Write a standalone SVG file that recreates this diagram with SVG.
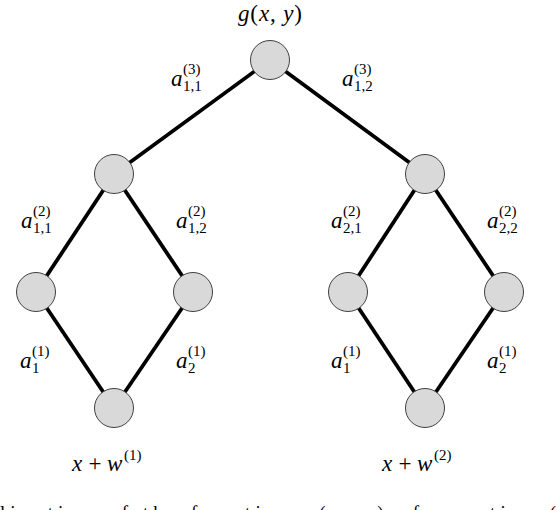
<svg xmlns="http://www.w3.org/2000/svg" width="556" height="510" viewBox="0 0 556 510">
<style>
.e{stroke:#000;stroke-width:3.8;fill:none}
.n{fill:#d9d9d9;stroke:#404040;stroke-width:1}
.m{font-family:"Liberation Serif",serif;font-style:italic;font-size:23px;fill:#000}
.r{font-family:"Liberation Serif",serif;font-style:normal;font-size:23px;fill:#000}
.s{font-family:"Liberation Serif",serif;font-size:15px;fill:#000}
.c{font-family:"Liberation Serif",serif;font-size:19px;fill:#000}
</style>
<rect width="556" height="510" fill="#fff"/>
<g id="connectors">
<line class="e" x1="270" y1="60" x2="114" y2="174"/>
<line class="e" x1="270" y1="60" x2="425" y2="174"/>
<line class="e" x1="114" y1="174" x2="36" y2="292"/>
<line class="e" x1="114" y1="174" x2="193" y2="292"/>
<line class="e" x1="425" y1="174" x2="348" y2="292"/>
<line class="e" x1="425" y1="174" x2="504" y2="292"/>
<line class="e" x1="36" y1="292" x2="114" y2="408"/>
<line class="e" x1="193" y1="292" x2="114" y2="408"/>
<line class="e" x1="348" y1="292" x2="425" y2="408"/>
<line class="e" x1="504" y1="292" x2="425" y2="408"/>
</g>
<g id="root"><circle class="n" cx="270" cy="60" r="19.5"/></g>
<g id="h1"><circle class="n" cx="114" cy="174" r="19.5"/></g>
<g id="h2"><circle class="n" cx="425" cy="174" r="19.5"/></g>
<g id="l11"><circle class="n" cx="36" cy="292" r="19.5"/></g>
<g id="l12"><circle class="n" cx="193" cy="292" r="19.5"/></g>
<g id="l21"><circle class="n" cx="348" cy="292" r="19.5"/></g>
<g id="l22"><circle class="n" cx="504" cy="292" r="19.5"/></g>
<g id="in1"><circle class="n" cx="114" cy="408" r="19.5"/></g>
<g id="in2"><circle class="n" cx="425" cy="408" r="19.5"/></g>
<g id="labels">
<text class="m" x="238" y="21" textLength="64" lengthAdjust="spacing">g<tspan class="r">(</tspan>x<tspan class="r">, </tspan>y<tspan class="r">)</tspan></text>
<!-- level 3 weights -->
<text class="m" x="171" y="86">a</text><text class="s" x="183" y="74">(3)</text><text class="s" x="183" y="91">1,1</text>
<text class="m" x="342" y="86">a</text><text class="s" x="354" y="74">(3)</text><text class="s" x="354" y="91">1,2</text>
<!-- level 2 weights -->
<text class="m" x="21" y="228">a</text><text class="s" x="33" y="216">(2)</text><text class="s" x="33" y="233">1,1</text>
<text class="m" x="176" y="228">a</text><text class="s" x="188" y="216">(2)</text><text class="s" x="188" y="233">1,2</text>
<text class="m" x="331" y="228">a</text><text class="s" x="343" y="216">(2)</text><text class="s" x="343" y="233">2,1</text>
<text class="m" x="487" y="228">a</text><text class="s" x="499" y="216">(2)</text><text class="s" x="499" y="233">2,2</text>
<!-- level 1 weights -->
<text class="m" x="20" y="368">a</text><text class="s" x="32" y="356">(1)</text><text class="s" x="32" y="373">1</text>
<text class="m" x="176" y="368">a</text><text class="s" x="188" y="356">(1)</text><text class="s" x="188" y="373">2</text>
<text class="m" x="331" y="368">a</text><text class="s" x="343" y="356">(1)</text><text class="s" x="343" y="373">1</text>
<text class="m" x="487" y="368">a</text><text class="s" x="499" y="356">(1)</text><text class="s" x="499" y="373">2</text>
<!-- inputs -->
<text class="m" x="72" y="471">x</text><text class="r" x="95" y="471" text-anchor="middle">+</text><text class="m" x="107" y="471">w</text><text class="s" x="124" y="460" font-size="17">(1)</text>
<text class="m" x="382" y="471">x</text><text class="r" x="405" y="471" text-anchor="middle">+</text><text class="m" x="417" y="471">w</text><text class="s" x="434" y="460" font-size="17">(2)</text>
<!-- caption (cut off at bottom edge, as in the reference) -->
<text class="c" x="0" y="519" textLength="556" lengthAdjust="spacing">lization of the function <tspan font-style="italic">g</tspan>(<tspan font-style="italic">x, y</tspan>) of equation (</text>
</g>
</svg>
